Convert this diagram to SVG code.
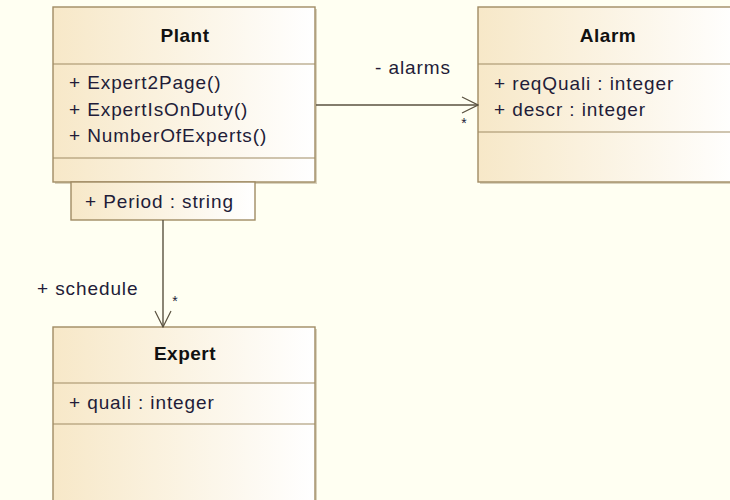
<svg xmlns="http://www.w3.org/2000/svg" width="730" height="500" viewBox="0 0 730 500">
<defs>
<linearGradient id="fill" x1="0" y1="0" x2="1" y2="0">
<stop offset="0" stop-color="#F7E8C8"/>
<stop offset="1" stop-color="#FFFFFF"/>
</linearGradient>
<marker id="open" viewBox="0 0 18 18" refX="17" refY="9" markerWidth="18" markerHeight="18" markerUnits="userSpaceOnUse" orient="auto">
<path d="M1,1 L17,9 L1,17" fill="none" stroke="#5A5240" stroke-width="1.2"/>
</marker>
</defs>
<style>
.bg{fill:#FFFFF2}
.box{fill:url(#fill);stroke:#A08C64;stroke-width:1.4}
.shadow{fill:#D9D2BC}
.div{stroke:#A08C64;stroke-width:1.2}
.t{font-family:"Liberation Sans",Arial,sans-serif;font-size:19px;letter-spacing:0.9px;fill:#221C38}
.h{font-family:"Liberation Sans",Arial,sans-serif;font-size:19px;letter-spacing:0.5px;font-weight:bold;fill:#111;text-anchor:middle}
.edge{stroke:#5A5240;stroke-width:1.4;fill:none}
.lab{font-family:"Liberation Sans",Arial,sans-serif;font-size:19px;letter-spacing:0.9px;fill:#221C38}
.mul{font-family:"Liberation Sans",Arial,sans-serif;font-size:14px;fill:#221C38;text-anchor:middle}
</style>
<rect class="bg" x="0" y="0" width="730" height="500"/>
<g id="Plant">
<rect class="shadow" x="55" y="9" width="262" height="175"/>
<rect class="box" x="53" y="7" width="262" height="175"/>
<line class="div" x1="53" y1="64" x2="315" y2="64"/>
<line class="div" x1="53" y1="158" x2="315" y2="158"/>
<text class="h" x="185" y="42">Plant</text>
<text class="t" x="69" y="89">+ Expert2Page()</text>
<text class="t" x="69" y="116">+ ExpertIsOnDuty()</text>
<text class="t" x="69" y="142">+ NumberOfExperts()</text>
</g>
<g id="PlantQualifier">
<rect class="box" x="71" y="182" width="184" height="38"/>
<text class="t" x="85" y="208">+ Period : string</text>
</g>
<g id="Alarm">
<rect class="shadow" x="480" y="9" width="260" height="175"/>
<rect class="box" x="478" y="7" width="262" height="175"/>
<line class="div" x1="478" y1="64" x2="740" y2="64"/>
<line class="div" x1="478" y1="132" x2="740" y2="132"/>
<text class="h" x="608" y="42">Alarm</text>
<text class="t" x="494" y="90">+ reqQuali : integer</text>
<text class="t" x="494" y="116">+ descr : integer</text>
</g>
<g id="Expert">
<rect class="shadow" x="55" y="329" width="262" height="180"/>
<rect class="box" x="53" y="327" width="262" height="180"/>
<line class="div" x1="53" y1="383" x2="315" y2="383"/>
<line class="div" x1="53" y1="424" x2="315" y2="424"/>
<text class="h" x="185" y="360">Expert</text>
<text class="t" x="69" y="409">+ quali : integer</text>
</g>
<g id="connectors">
<line class="edge" x1="316" y1="105" x2="478" y2="105" marker-end="url(#open)"/>
<text class="lab" x="413" y="74" text-anchor="middle">- alarms</text>
<text class="mul" x="464" y="128">*</text>
<line class="edge" x1="163" y1="220" x2="163" y2="327" marker-end="url(#open)"/>
<text class="lab" x="37" y="295">+ schedule</text>
<text class="mul" x="175" y="306">*</text>
</g>
</svg>
